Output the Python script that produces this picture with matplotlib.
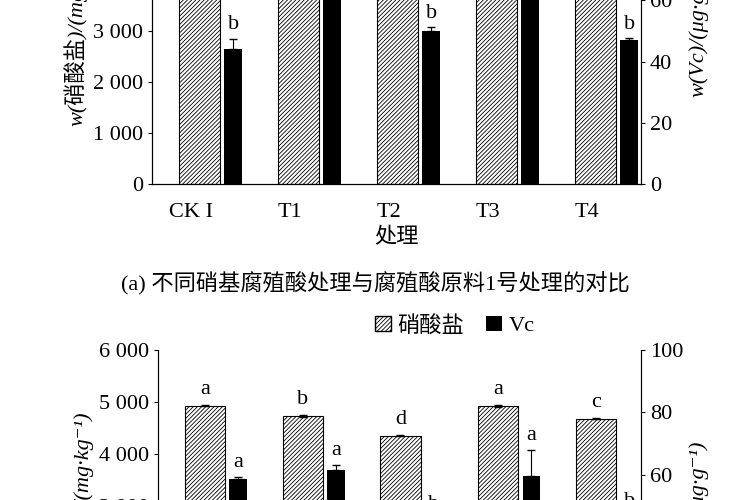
import matplotlib
matplotlib.use("Agg")
import matplotlib.pyplot as plt
import numpy as np
from matplotlib.ticker import FuncFormatter
from matplotlib.patches import Patch

plt.rcParams['font.family'] = ['Liberation Serif', 'Noto Sans CJK SC', 'DejaVu Sans']
plt.rcParams['hatch.color'] = '#8a8a8a'
plt.rcParams['hatch.linewidth'] = 0.6

cats_a = ['CK I', 'T1', 'T2', 'T3', 'T4']
nit_a = [4800, 4750, 4700, 4850, 4650]
nit_a_err = [30, 30, 30, 30, 30]
vc_a = [44.0, 75.0, 50.0, 72.0, 47.0]
vc_a_err = [3.5, 2.0, 1.2, 2.0, 0.6]
vc_a_lab = ['b', 'a', 'b', 'a', 'b']
nit_a_lab = ['a', 'a', 'a', 'a', 'a']

cats_b = ['CK II', 'T5', 'T6', 'T7', 'T8']
nit_b = [4930, 4730, 4350, 4920, 4680]
nit_b_err = [15, 15, 10, 15, 10]
vc_b = [58.5, 61.5, 45.0, 59.5, 46.0]
vc_b_err = [0.8, 1.8, 1.0, 8.5, 1.0]
nit_b_lab = ['a', 'b', 'd', 'a', 'c']
vc_b_lab = ['a', 'a', 'b', 'a', 'b']

fig = plt.figure(figsize=(7.5, 5), dpi=100)
fmt = FuncFormatter(lambda v, p: f"{int(v):,}".replace(',', ' '))
FS = 16
HATCH = '////////'

def panel(rect, cats, nit, nerr, nlab, vc, verr, vlab, xlabel=True):
    ax = fig.add_axes(rect)
    ax2 = ax.twinx()
    x = np.arange(len(cats))
    xn = x + 0.09
    xv = x + 0.43
    ax.bar(xn, nit, width=0.41, facecolor='white', edgecolor='black', hatch=HATCH,
           linewidth=0.8, yerr=nerr, error_kw=dict(ecolor='black', capsize=3, lw=0.8))
    ax2.bar(xv, vc, width=0.18, color='black', yerr=[np.zeros(len(verr)), verr],
            error_kw=dict(ecolor='black', capsize=3, lw=0.8))
    for i in range(len(cats)):
        ax.text(xn[i], nit[i] + nerr[i] + 120, nlab[i], ha='center', va='bottom', fontsize=FS)
        ax2.text(xv[i], vc[i] + verr[i] + 1.5, vlab[i], ha='center', va='bottom', fontsize=FS)
    ax.set_xlim(-0.39, 4.55)
    ax.set_ylim(0, 6000)
    ax2.set_ylim(0, 100)
    ax.set_yticks(range(0, 6001, 1000))
    ax.yaxis.set_major_formatter(fmt)
    ax2.set_yticks(range(0, 101, 20))
    ax.set_xticks(x)
    ax.set_xticklabels(cats, fontsize=FS)
    ax.tick_params(axis='x', length=0, pad=14)
    ax.tick_params(axis='y', labelsize=FS, direction='out', length=3)
    ax2.tick_params(axis='y', labelsize=FS, direction='out', length=3)
    for a in (ax, ax2):
        a.spines['top'].set_visible(False)
    ax.set_ylabel('w(硝酸盐)/(mg·kg⁻¹)', fontsize=FS, style='italic')
    ax2.set_ylabel('w(Vc)/(μg·g⁻¹)', fontsize=FS, style='italic')
    if xlabel:
        ax.set_xlabel('处理', fontsize=FS, labelpad=4)
    return ax, ax2

panel([152/750, 1 - 184/500, (641 - 152)/750, 306/500], cats_a, nit_a, nit_a_err, nit_a_lab,
      vc_a, vc_a_err, vc_a_lab)
fig.text(375/750, 1 - 284/500, '(a) 不同硝基腐殖酸处理与腐殖酸原料1号处理的对比',
         ha='center', va='center', fontsize=FS)

panel([158/750, 1 - 662/500, (641 - 158)/750, 312/500], cats_b, nit_b, nit_b_err,
      nit_b_lab, vc_b, vc_b_err, vc_b_lab)
h = [Patch(facecolor='white', edgecolor='black', hatch=HATCH, label='硝酸盐'),
     Patch(facecolor='black', label='Vc')]
fig.legend(handles=h, loc='center', bbox_to_anchor=(455/750, 1 - 326/500), ncol=2,
           frameon=False, fontsize=FS, handlelength=0.7, handleheight=0.7,
           handletextpad=0.3, columnspacing=1.0)

fig.savefig('out.png', dpi=100)
